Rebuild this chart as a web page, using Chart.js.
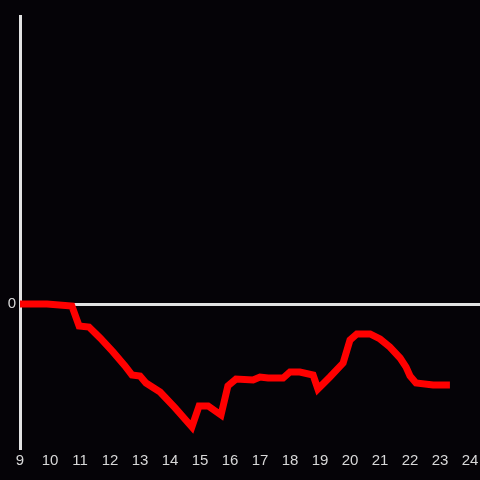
<!DOCTYPE html>
<html>
<head>
<meta charset="utf-8">
<script src="https://cdn.jsdelivr.net/npm/chart.js@4/dist/chart.umd.min.js"></script>
<style>
html,body{margin:0;padding:0;background:#050307;}
#wrap{width:480px;height:480px;}
</style>
</head>
<body>
<div id="wrap"><canvas id="c" width="480" height="480"></canvas></div>
<script>
const hours = [9, 9.9, 10.73, 10.97, 11.3, 11.67, 12.1, 12.5, 12.73, 13.0, 13.2, 13.67, 14.17, 14.73, 14.97, 15.27, 15.7, 15.93, 16.2, 16.77, 17.0, 17.27, 17.77, 18.0, 18.33, 18.77, 18.93, 19.33, 19.77, 20.0, 20.23, 20.67, 21.0, 21.33, 21.67, 21.87, 22.0, 22.2, 22.77, 23.33];
const values = [0, 0, -0.014, -0.153, -0.16, -0.236, -0.333, -0.43, -0.493, -0.5, -0.549, -0.611, -0.722, -0.854, -0.708, -0.708, -0.771, -0.569, -0.521, -0.528, -0.507, -0.514, -0.514, -0.472, -0.472, -0.493, -0.59, -0.507, -0.41, -0.25, -0.208, -0.208, -0.243, -0.299, -0.375, -0.438, -0.5, -0.549, -0.563, -0.563];
const xTicks = [9,10,11,12,13,14,15,16,17,18,19,20,21,22,23,24];
const yMin = -1, yMax = 2;

const axisColor = '#e2e2e2';
const labelColor = '#d8d8d8';
const pts = hours.map((h,i)=>({x:h,y:values[i]}));

new Chart(document.getElementById('c'), {
  type: 'line',
  data: { datasets: [{ data: pts, borderColor: '#ff0000', borderWidth: 7, pointRadius: 0, tension: 0, fill: false, borderJoinStyle: 'miter', borderCapStyle: 'butt' }] },
  options: {
    responsive: false, animation: false,
    layout: { padding: { top: 16, right: 0, left: 0, bottom: 0 } },
    plugins: { legend: { display: false }, tooltip: { enabled: false } },
    scales: {
      x: {
        type: 'linear', min: 9, max: 24.333,
        afterBuildTicks: (s) => { s.ticks = xTicks.map(v=>({value:v})); },
        afterFit: (s) => { s.height = 32; s.paddingLeft = 0; s.paddingRight = 0; },
        grid: { display: false, drawTicks: false },
        border: { display: false },
        ticks: { color: labelColor, font: { family: 'Liberation Sans', size: 15 }, padding: 4, maxRotation: 0, autoSkip: false }
      },
      y: {
        min: yMin, max: yMax,
        afterBuildTicks: (s) => { s.ticks = [{value:0}]; },
        afterFit: (s) => { s.width = 20; s.paddingTop = 0; s.paddingBottom = 0; },
        grid: { color: axisColor, lineWidth: 3, drawTicks: false },
        border: { display: true, color: axisColor, width: 3 },
        ticks: { color: labelColor, font: { family: 'Liberation Sans', size: 15 }, padding: 4 }
      }
    }
  },
  plugins: [{ id: 'bg', beforeDraw: (c) => { const g=c.ctx; g.save(); g.fillStyle='#050307'; g.fillRect(0,0,c.width,c.height); g.restore(); } }]
});
</script>
</body>
</html>
